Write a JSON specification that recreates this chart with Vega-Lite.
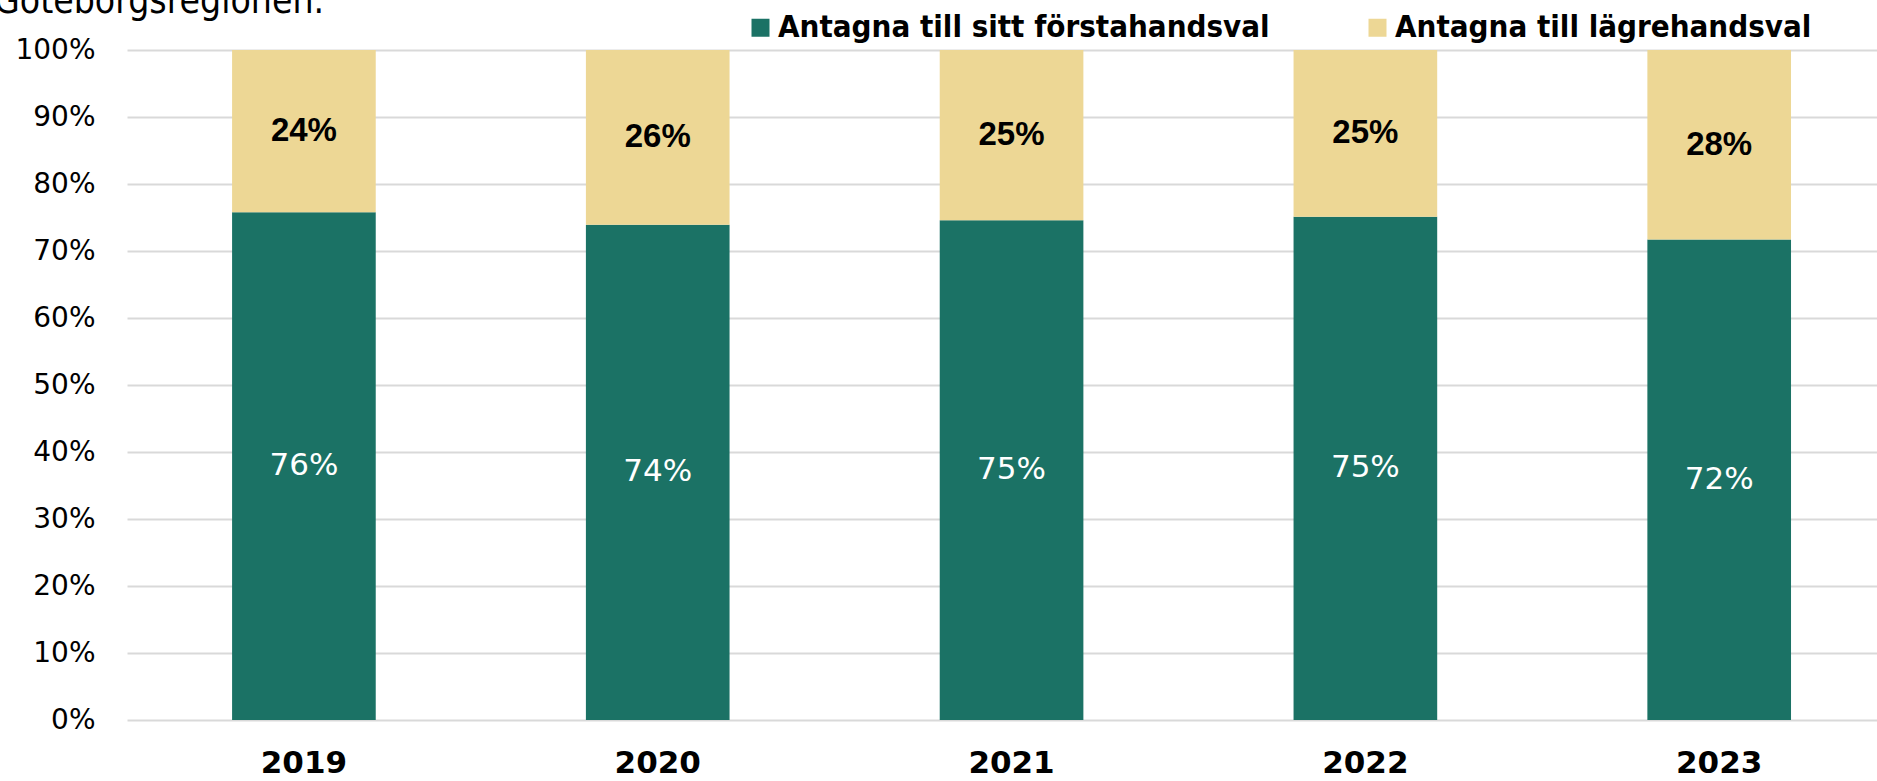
{
  "$schema": "https://vega.github.io/schema/vega-lite/v6.json",
  "width": 1750,
  "height": 670,
  "autosize": {"type": "none"},
  "padding": {"left": 127, "top": 50, "right": 0, "bottom": 61},
  "background": "white",
  "title": {
    "text": "Göteborgsregionen.",
    "anchor": "start",
    "frame": "group",
    "dx": -133,
    "offset": 0,
    "dy": 38,
    "baseline": "alphabetic",
    "font": "'DejaVu Sans Condensed', 'DejaVu Sans'",
    "fontSize": 37,
    "fontWeight": "normal",
    "color": "#000000"
  },
  "config": {
    "view": {"stroke": null},
    "font": "Liberation Sans"
  },
  "data": {
    "values": [
      {"year": "2019", "category": "Antagna till sitt förstahandsval", "value": 0.758},
      {"year": "2019", "category": "Antagna till lägrehandsval", "value": 0.242},
      {"year": "2020", "category": "Antagna till sitt förstahandsval", "value": 0.739},
      {"year": "2020", "category": "Antagna till lägrehandsval", "value": 0.261},
      {"year": "2021", "category": "Antagna till sitt förstahandsval", "value": 0.746},
      {"year": "2021", "category": "Antagna till lägrehandsval", "value": 0.254},
      {"year": "2022", "category": "Antagna till sitt förstahandsval", "value": 0.751},
      {"year": "2022", "category": "Antagna till lägrehandsval", "value": 0.249},
      {"year": "2023", "category": "Antagna till sitt förstahandsval", "value": 0.717},
      {"year": "2023", "category": "Antagna till lägrehandsval", "value": 0.283}
    ]
  },
  "transform": [
    {"stack": "value", "groupby": ["year"], "sort": [{"field": "category", "order": "descending"}], "as": ["y0", "y1"]},
    {"calculate": "(datum.y0 + datum.y1) / 2", "as": "mid"}
  ],
  "encoding": {
    "x": {
      "field": "year",
      "type": "nominal",
      "scale": {"paddingInner": 0.594, "paddingOuter": 0.27, "align": 0.55},
      "axis": {
        "title": null,
        "labelAngle": 0,
        "domain": false,
        "ticks": false,
        "labelFont": "DejaVu Sans",
        "labelFontSize": 31,
        "labelFontWeight": "bold",
        "labelColor": "#000000",
        "labelPadding": 28
      }
    }
  },
  "layer": [
    {
      "mark": {"type": "bar"},
      "encoding": {
        "y": {
          "field": "y0",
          "type": "quantitative",
          "scale": {"domain": [0, 1], "nice": false},
          "axis": {
            "title": null,
            "format": ".0%",
            "values": [0, 0.1, 0.2, 0.3, 0.4, 0.5, 0.6, 0.7, 0.8, 0.9, 1],
            "domain": false,
            "ticks": false,
            "grid": true,
            "gridColor": "#d9d9d9",
            "gridWidth": 2,
            "labelFont": "DejaVu Sans",
            "labelFontSize": 28,
            "labelColor": "#000000",
            "labelPadding": 32
          }
        },
        "y2": {"field": "y1"},
        "color": {
          "field": "category",
          "type": "nominal",
          "scale": {
            "domain": ["Antagna till sitt förstahandsval", "Antagna till lägrehandsval"],
            "range": ["#1B7265", "#EDD795"]
          },
          "legend": {
            "title": null,
            "orient": "none",
            "direction": "horizontal",
            "legendX": 618,
            "legendY": -38,
            "symbolType": "square",
            "symbolSize": 324,
            "symbolStrokeWidth": 0,
            "labelFont": "'DejaVu Sans Condensed', 'Liberation Sans'",
            "labelFontWeight": "bold",
            "labelFontSize": 31,
            "labelColor": "#000000",
            "labelOffset": 2,
            "columnPadding": 92,
            "labelLimit": 1000
          }
        }
      }
    },
    {
      "transform": [{"filter": "datum.category == 'Antagna till sitt förstahandsval'"}],
      "mark": {"type": "text", "color": "white", "font": "DejaVu Sans", "fontSize": 31, "fontWeight": "normal", "baseline": "middle"},
      "encoding": {
        "y": {"field": "mid", "type": "quantitative"},
        "text": {"field": "value", "type": "quantitative", "format": ".0%"}
      }
    },
    {
      "transform": [{"filter": "datum.category == 'Antagna till lägrehandsval'"}],
      "mark": {"type": "text", "color": "black", "font": "Liberation Sans", "fontSize": 33, "fontWeight": "bold", "baseline": "middle"},
      "encoding": {
        "y": {"field": "mid", "type": "quantitative"},
        "text": {"field": "value", "type": "quantitative", "format": ".0%"}
      }
    }
  ]
}
